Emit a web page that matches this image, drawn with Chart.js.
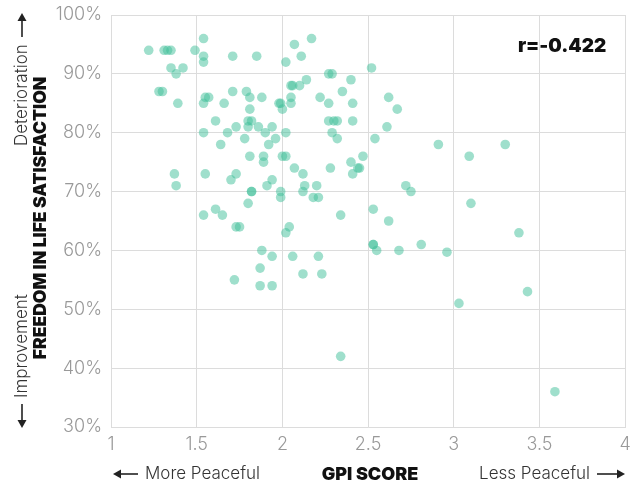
<!DOCTYPE html>
<html><head><meta charset="utf-8">
<script src="https://cdn.jsdelivr.net/npm/chart.js@4"></script>
<style>html,body{margin:0;padding:0;background:#fff;}#wrap{width:630px;height:487px;position:relative;}</style>
</head><body><div id="wrap"><canvas id="c" width="630" height="487"></canvas></div>
<script>
const gpiScore = [1.22,1.31,1.33,1.35,1.49,1.54,1.54,1.54,1.35,1.42,1.38,1.71,1.85,2.07,2.17,2.11,2.02,2.27,2.29,2.40,1.28,1.30,1.39,1.54,1.55,1.57,1.66,1.71,1.79,1.81,1.88,1.81,1.61,1.80,1.82,1.54,1.68,1.73,1.80,1.86,1.94,1.90,1.78,1.96,2.02,2.00,1.98,1.99,2.05,2.05,2.05,2.06,2.10,2.14,2.22,2.27,2.35,2.41,2.27,2.30,2.32,2.41,2.29,2.32,1.64,1.92,1.81,1.89,1.89,2.00,2.02,2.07,2.12,2.28,2.40,2.41,2.44,2.45,2.47,1.37,1.38,1.55,1.70,1.73,1.91,1.94,1.82,1.82,1.80,1.99,1.99,2.12,2.13,2.18,2.21,2.20,1.54,1.61,1.65,2.34,1.73,1.75,2.04,2.02,1.88,1.94,2.06,2.21,1.87,1.72,2.12,2.23,1.87,1.94,2.34,2.52,2.62,2.67,2.61,2.54,2.91,3.09,3.30,2.72,2.75,3.10,2.53,2.62,3.38,2.53,2.53,2.55,2.68,2.81,2.96,3.43,3.03,3.59];
const freedomPct = [94,94,94,94,94,96,93,92,91,91,90,93,93,95,96,93,92,90,90,89,87,87,85,85,86,86,85,87,87,86,86,84,82,82,82,80,80,81,81,81,81,80,79,79,80,84,85,85,85,86,88,88,88,89,86,85,87,85,82,82,82,82,80,79,78,78,76,76,75,76,76,74,73,74,75,73,74,74,76,73,71,73,72,73,71,72,70,70,68,70,69,70,71,69,69,71,66,67,66,66,64,64,64,63,60,59,59,59,57,55,56,56,54,54,42,91,86,84,81,79,78,76,78,71,70,68,67,65,63,61,61,60,60,61,59.7,53,51,36];
const xTicks = [1,1.5,2,2.5,3,3.5,4];
const yTicks = [30,40,50,60,70,80,90,100];
const rLabel = 'r=-0.422';
const xTitle = 'GPI SCORE';
const yTitle = 'FREEDOM IN LIFE SATISFACTION';

const pts = gpiScore.map((x,i)=>({x:x,y:freedomPct[i]}));
const F = "Inter, 'DejaVu Sans', sans-serif";

function arrow(ctx, x1, y1, x2, y2){
  const ang = Math.atan2(y2-y1, x2-x1), hl = 8, hw = 4.5;
  const bx = x2 - hl*Math.cos(ang), by = y2 - hl*Math.sin(ang);
  ctx.beginPath(); ctx.moveTo(x1,y1); ctx.lineTo(bx,by);
  ctx.lineWidth = 1.6; ctx.strokeStyle = '#222'; ctx.stroke();
  ctx.beginPath(); ctx.moveTo(x2,y2);
  ctx.lineTo(bx - hw*Math.sin(ang), by + hw*Math.cos(ang));
  ctx.lineTo(bx + hw*Math.sin(ang), by - hw*Math.cos(ang));
  ctx.closePath(); ctx.fillStyle = '#222'; ctx.fill();
}

const textPlugin = {
  id:'texts',
  afterDraw(chart){
    const ctx = chart.ctx, a = chart.chartArea;
    ctx.save();
    ctx.fillStyle='#111'; ctx.font="900 19px "+F; ctx.textAlign='right'; ctx.textBaseline='middle';
    ctx.fillText(rLabel, a.right-19, 46);
    ctx.font="900 18px "+F; ctx.textAlign='center'; ctx.fillStyle='#111';
    ctx.fillText(xTitle, 370, 475);
    ctx.font="300 17px "+F; ctx.fillStyle='#333';
    ctx.textAlign='left'; ctx.fillText('More Peaceful', 145, 474);
    ctx.textAlign='right'; ctx.fillText('Less Peaceful', 590, 474);
    arrow(ctx, 138, 474, 113, 474);
    arrow(ctx, 597, 474, 625, 474);
    ctx.save();
    ctx.translate(41, 218); ctx.rotate(-Math.PI/2);
    ctx.font="900 17.5px "+F; ctx.fillStyle='#111'; ctx.textAlign='center';
    ctx.fillText(yTitle, 0, 0);
    ctx.restore();
    ctx.save();
    ctx.translate(22, 0); ctx.rotate(-Math.PI/2);
    ctx.font="300 17px "+F; ctx.fillStyle='#333'; ctx.textAlign='left';
    ctx.fillText('Deterioration', -146, 0);
    ctx.fillText('Improvement', -398, 0);
    ctx.restore();
    arrow(ctx, 22, 37, 22, 13);
    arrow(ctx, 22, 404, 22, 428);
    ctx.restore();
  }
};

new Chart(document.getElementById('c'), {
  type:'scatter',
  data:{datasets:[{data:pts, backgroundColor:'rgba(63,191,154,0.5)', borderWidth:0, pointRadius:4.8, pointHoverRadius:4.8}]},
  options:{
    responsive:false, animation:false,
    layout:{padding:{left:0,right:2,top:15,bottom:0}},
    plugins:{legend:{display:false}, tooltip:{enabled:false}},
    scales:{
      x:{type:'linear', min:1, max:4,
        afterBuildTicks(s){ s.ticks = xTicks.map(v=>({value:v})); },
        afterFit(s){ s.height = 60; s.paddingLeft=0; s.paddingRight=0; },
        grid:{color:'#dcdcdc', lineWidth:1, drawTicks:false},
        border:{color:'#dcdcdc'},
        ticks:{color:'#999', font:{family:F, size:18, weight:300}, padding:7, maxRotation:0, callback:v=>String(v)}
      },
      y:{type:'linear', min:30, max:100,
        afterBuildTicks(s){ s.ticks = yTicks.map(v=>({value:v})); },
        afterFit(s){ s.width = 111; s.paddingTop=0; s.paddingBottom=0; },
        grid:{color:'#dcdcdc', lineWidth:1, drawTicks:false},
        border:{color:'#dcdcdc'},
        ticks:{color:'#999', font:{family:F, size:18, weight:300}, padding:9, callback:v=>v+'%'}
      }
    }
  },
  plugins:[textPlugin]
});
</script></body></html>
